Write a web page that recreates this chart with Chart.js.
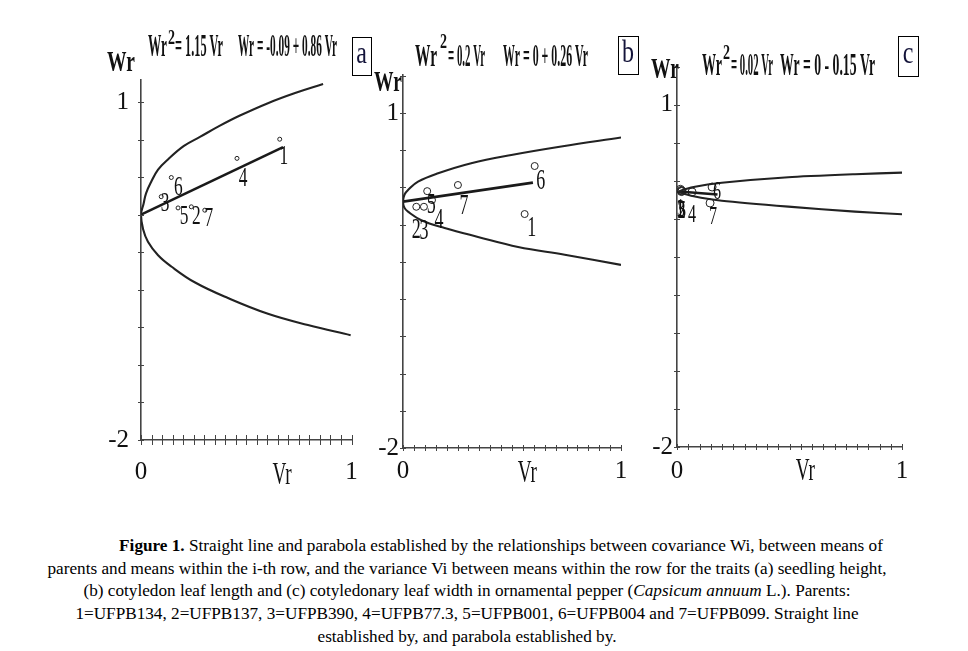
<!DOCTYPE html>
<html>
<head>
<meta charset="utf-8">
<script src="https://cdn.jsdelivr.net/npm/chart.js@4.4.1/dist/chart.umd.min.js"></script>
<style>
  body { margin: 0; background: #fff; width: 968px; height: 651px; position: relative; overflow: hidden; font-family: "Liberation Serif", serif; }
  canvas { position: absolute; }
  #caption { position: absolute; left: 0; top: 535px; width: 934px; text-align: center; font-size: 17.2px; line-height: 22.7px; text-indent: 68px; white-space: nowrap; color: #000; }
</style>
</head>
<body>
<canvas id="panel-a" width="280" height="480" style="left:95px;top:20px"></canvas>
<canvas id="panel-b" width="280" height="480" style="left:360px;top:20px"></canvas>
<canvas id="panel-c" width="290" height="480" style="left:635px;top:20px"></canvas>
<div id="caption"><b>Figure 1.</b> Straight line and parabola established by the relationships between covariance Wi, between means of<br>parents and means within the i-th row, and the variance Vi between means within the row for the traits (a) seedling height,<br>(b) cotyledon leaf length and (c) cotyledonary leaf width in ornamental pepper (<i>Capsicum annuum</i> L.). Parents:<br>1=UFPB134, 2=UFPB137, 3=UFPB390, 4=UFPB77.3, 5=UFPB001, 6=UFPB004 and 7=UFPB099. Straight line<br>established by, and parabola established by.</div>
<script>
// parents 1..7
const parentIds = ['1', '2', '3', '4', '5', '6', '7'];
const xLabelValues = [0, 1];
const yLabelValues = [1, -2];

// (a) seedling height
const aCurveVr = [0.865, 0.732, 0.603, 0.470, 0.375, 0.280, 0.204, 0.128, 0.081, 0.048, 0.024, 0.012, 0, 0.010, 0.033, 0.081, 0.144, 0.255, 0.413, 0.603, 0.793, 0.996];
const aCurveWr = [1.16, 1.08, 0.99, 0.88, 0.79, 0.69, 0.61, 0.49, 0.40, 0.29, 0.19, 0.095, 0, -0.13, -0.24, -0.36, -0.46, -0.60, -0.74, -0.88, -0.98, -1.07];
const aLineVr = [0, 0.675];
const aLineWr = [0, 0.60];
const aParentVr = [0.659, 0.239, 0.096, 0.456, 0.176, 0.144, 0.303];
const aParentWr = [0.67, 0.07, 0.16, 0.50, 0.06, 0.33, 0.04];

// (b) cotyledon leaf length
const bCurveVr = [1.0, 0.726, 0.497, 0.313, 0.161, 0.069, 0.023, 0.007, 0, 0.007, 0.023, 0.084, 0.191, 0.344, 0.528, 0.742, 1.0];
const bCurveWr = [0.78, 0.70, 0.624, 0.55, 0.46, 0.385, 0.31, 0.27, 0.206, 0.15, 0.116, 0.04, -0.03, -0.11, -0.20, -0.27, -0.36];
const bLineVr = [0, 0.596];
const bLineWr = [0.206, 0.376];
const bParentVr = [0.558, 0.061, 0.096, 0.133, 0.111, 0.604, 0.252];
const bParentWr = [0.095, 0.16, 0.16, 0.22, 0.30, 0.525, 0.355];

// (c) cotyledonary leaf width
const cCurveVr = [1.0, 0.791, 0.495, 0.199, 0.08, 0.009, 0.08, 0.199, 0.495, 0.791, 1.0];
const cCurveWr = [0.406, 0.392, 0.366, 0.318, 0.283, 0.24, 0.196, 0.16, 0.108, 0.064, 0.041];
const cLineVr = [0.009, 0.18];
const cLineWr = [0.24, 0.215];
const cParentVr = [0.015, 0.02, 0.018, 0.067, 0.022, 0.156, 0.147];
const cParentWr = [0.26, 0.24, 0.25, 0.237, 0.245, 0.28, 0.14];

const eqParabola = ['= 1.15 Vr', '= 0.2 Vr', '= 0.02 Vr'];
const eqLine = ['Wr = -0.09 + 0.86 Vr', 'Wr = 0 + 0.26 Vr', 'Wr = 0 - 0.15 Vr'];
const panelLetters = ['a', 'b', 'c'];

const zip = (xs, ys) => xs.map((x, i) => ({ x: x, y: ys[i] }));
const FONT = '"Liberation Serif", serif';

// centred text, squeezed horizontally like the scanned figure
function txt(ctx, s, cx, cy, size, sx, weight) {
    ctx.save();
    ctx.translate(cx, cy);
    ctx.scale(sx, 1);
    ctx.font = (weight || '') + ' ' + size + 'px ' + FONT;
    ctx.textAlign = 'center';
    ctx.textBaseline = 'middle';
    ctx.fillText(s, 0, 0);
    ctx.restore();
}
// text stretched to fit between x0 and x1
function span(ctx, s, x0, x1, cy, size, weight) {
    ctx.save();
    ctx.font = (weight || '') + ' ' + size + 'px ' + FONT;
    const w = ctx.measureText(s).width;
    ctx.translate(x0, cy);
    ctx.scale((x1 - x0) / w, 1);
    ctx.textAlign = 'left';
    ctx.textBaseline = 'middle';
    ctx.fillText(s, 0, 0);
    ctx.restore();
}

function decor(p) {
    return {
        id: 'decor',
        afterDraw(chart) {
            const ctx = chart.ctx;
            const xs = chart.scales.x, ys = chart.scales.y;
            const ox = p.left, oy = p.top;
            ctx.save();
            ctx.strokeStyle = '#444';
            ctx.lineWidth = 1;
            ctx.beginPath();
            xs.ticks.forEach(t => {
                const px = Math.round(xs.getPixelForValue(t.value)) + 0.5;
                ctx.moveTo(px, ys.bottom - p.tick);
                ctx.lineTo(px, ys.bottom + p.tick);
            });
            ys.ticks.forEach(t => {
                const py = Math.round(ys.getPixelForValue(t.value)) + 0.5;
                ctx.moveTo(xs.left - 3, py);
                ctx.lineTo(xs.left + 3, py);
            });
            ctx.stroke();

            ctx.fillStyle = '#111';
            const meta = chart.getDatasetMeta(2);
            meta.data.forEach((el, i) => {
                const o = p.offsets[i];
                txt(ctx, parentIds[i], el.x + o[0], el.y + o[1], p.labelSize, p.labelScale);
            });

            // axis names
            txt(ctx, 'Vr', xs.getPixelForValue(p.vrAt), p.vrY - oy, 32, 0.6);
            txt(ctx, 'Wr', p.wr[0] - ox, p.wr[1] - oy, 30, 0.65, 'bold');

            // equations
            const t = p.title;
            span(ctx, 'Wr', t.wr[0] - ox, t.wr[1] - ox, t.y - oy, 32, 'bold');
            span(ctx, '2', t.sup[0] - ox, t.sup[1] - ox, t.supY - oy, 22, 'bold');
            span(ctx, eqParabola[p.idx], t.eq1[0] - ox, t.eq1[1] - ox, t.y - oy, 32, 'bold');
            span(ctx, eqLine[p.idx], t.eq2[0] - ox, t.eq2[1] - ox, t.y - oy, 32, 'bold');

            // panel letter box
            const b = p.box;
            ctx.strokeStyle = '#000';
            ctx.lineWidth = 1;
            ctx.strokeRect(b[0] - ox + 0.5, b[1] - oy + 0.5, b[2], b[3]);
            ctx.fillStyle = '#14143a';
            txt(ctx, panelLetters[p.idx], b[0] - ox + b[2] / 2, b[1] - oy + b[3] / 2 - 1, 32, 0.75);
            ctx.restore();
        }
    };
}

function makePanel(id, p) {
    const yTicks = [];
    for (let k = 0; (k - 6) / 3 <= p.yMax + 1e-9; k++) yTicks.push((k - 6) / 3);
    return new Chart(document.getElementById(id), {
        type: 'scatter',
        data: {
            datasets: [
                { data: zip(p.curveVr, p.curveWr), showLine: true, pointRadius: 0, borderColor: '#222', borderWidth: 2.1, tension: p.tension },
                { data: zip(p.lineVr, p.lineWr), showLine: true, pointRadius: 0, borderColor: '#1a1a1a', borderWidth: 2.6, tension: 0 },
                { data: zip(p.parVr, p.parWr), pointRadius: p.r, pointBorderWidth: 1, borderColor: '#222', backgroundColor: 'rgba(255,255,255,0)' }
            ]
        },
        options: {
            responsive: false,
            animation: false,
            devicePixelRatio: 1,
            layout: { padding: { left: 0, top: p.padTop, right: p.padRight, bottom: 0 } },
            plugins: { legend: { display: false }, tooltip: { enabled: false } },
            scales: {
                x: {
                    type: 'linear', min: 0, max: 1,
                    grid: { display: false, drawTicks: false },
                    border: { display: true, color: '#444', width: 1.6 },
                    ticks: {
                        stepSize: 0.05, autoSkip: false, maxRotation: 0, padding: p.xPad, color: '#111',
                        font: { family: FONT, size: 25 },
                        callback: v => xLabelValues.includes(v) ? String(v) : ''
                    },
                    afterFit: s => { s.height = p.xH; }
                },
                y: {
                    type: 'linear', min: -2, max: p.yMax,
                    grid: { display: false, drawTicks: false },
                    border: { display: true, color: '#444', width: 1.6 },
                    ticks: {
                        autoSkip: false, padding: p.yPad, color: '#111',
                        font: { family: FONT, size: 25 },
                        callback: v => yLabelValues.includes(v) ? String(v) : ''
                    },
                    afterBuildTicks: s => { s.ticks = yTicks.map(v => ({ value: v })); },
                    afterFit: s => { s.width = p.yW; }
                }
            }
        },
        plugins: [decor(p)]
    });
}

makePanel('panel-a', {
    idx: 0, left: 95, top: 20,
    curveVr: aCurveVr, curveWr: aCurveWr, lineVr: aLineVr, lineWr: aLineWr, parVr: aParentVr, parWr: aParentWr,
    tension: 0.4, r: 2, yMax: 1.2, padTop: 59.5, padRight: 23.5, yW: 46, xH: 60, xPad: 17, yPad: 12, tick: 5,
    offsets: [[4, 17], [5, 10], [4, 7], [6, 20], [6, 9], [7, 10], [4, 8]],
    labelSize: 28, labelScale: 0.62,
    vrAt: 0.67, vrY: 476, wr: [121, 63],
    title: { y: 48, supY: 38, wr: [148, 167], sup: [168, 175], eq1: [175, 223], eq2: [238, 337] },
    box: [352, 37, 19, 38]
});
makePanel('panel-b', {
    idx: 1, left: 360, top: 20,
    curveVr: bCurveVr, curveWr: bCurveWr, lineVr: bLineVr, lineWr: bLineWr, parVr: bParentVr, parWr: bParentWr,
    tension: 0.4, r: 3.5, yMax: 1.34, padTop: 55, padRight: 19, yW: 43, xH: 52, xPad: 8, yPad: 4, tick: 3,
    offsets: [[7, 14], [0, 23], [0, 24], [7, 20], [4, 14], [6, 15], [6, 21]],
    labelSize: 30, labelScale: 0.6,
    vrAt: 0.57, vrY: 474, wr: [388, 83],
    title: { y: 58, supY: 42, wr: [415, 437], sup: [440, 447], eq1: [448, 485], eq2: [503, 588] },
    box: [618, 36, 20, 38]
});
makePanel('panel-c', {
    idx: 2, left: 635, top: 20,
    curveVr: cCurveVr, curveWr: cCurveWr, lineVr: cLineVr, lineWr: cLineWr, parVr: cParentVr, parWr: cParentWr,
    tension: 0.2, r: 4, yMax: 1.35, padTop: 45, padRight: 23, yW: 42, xH: 53, xPad: 9, yPad: 4, tick: 3,
    offsets: [[0, 20], [0, 20], [0, 20], [0, 23], [0, 20], [5, 5], [3, 14]],
    labelSize: 26, labelScale: 0.62,
    vrAt: 0.57, vrY: 472, wr: [665, 70],
    title: { y: 67, supY: 53, wr: [702, 722], sup: [723, 730], eq1: [731, 773], eq2: [780, 875] },
    box: [898, 36, 20, 40]
});
</script>
</body>
</html>
